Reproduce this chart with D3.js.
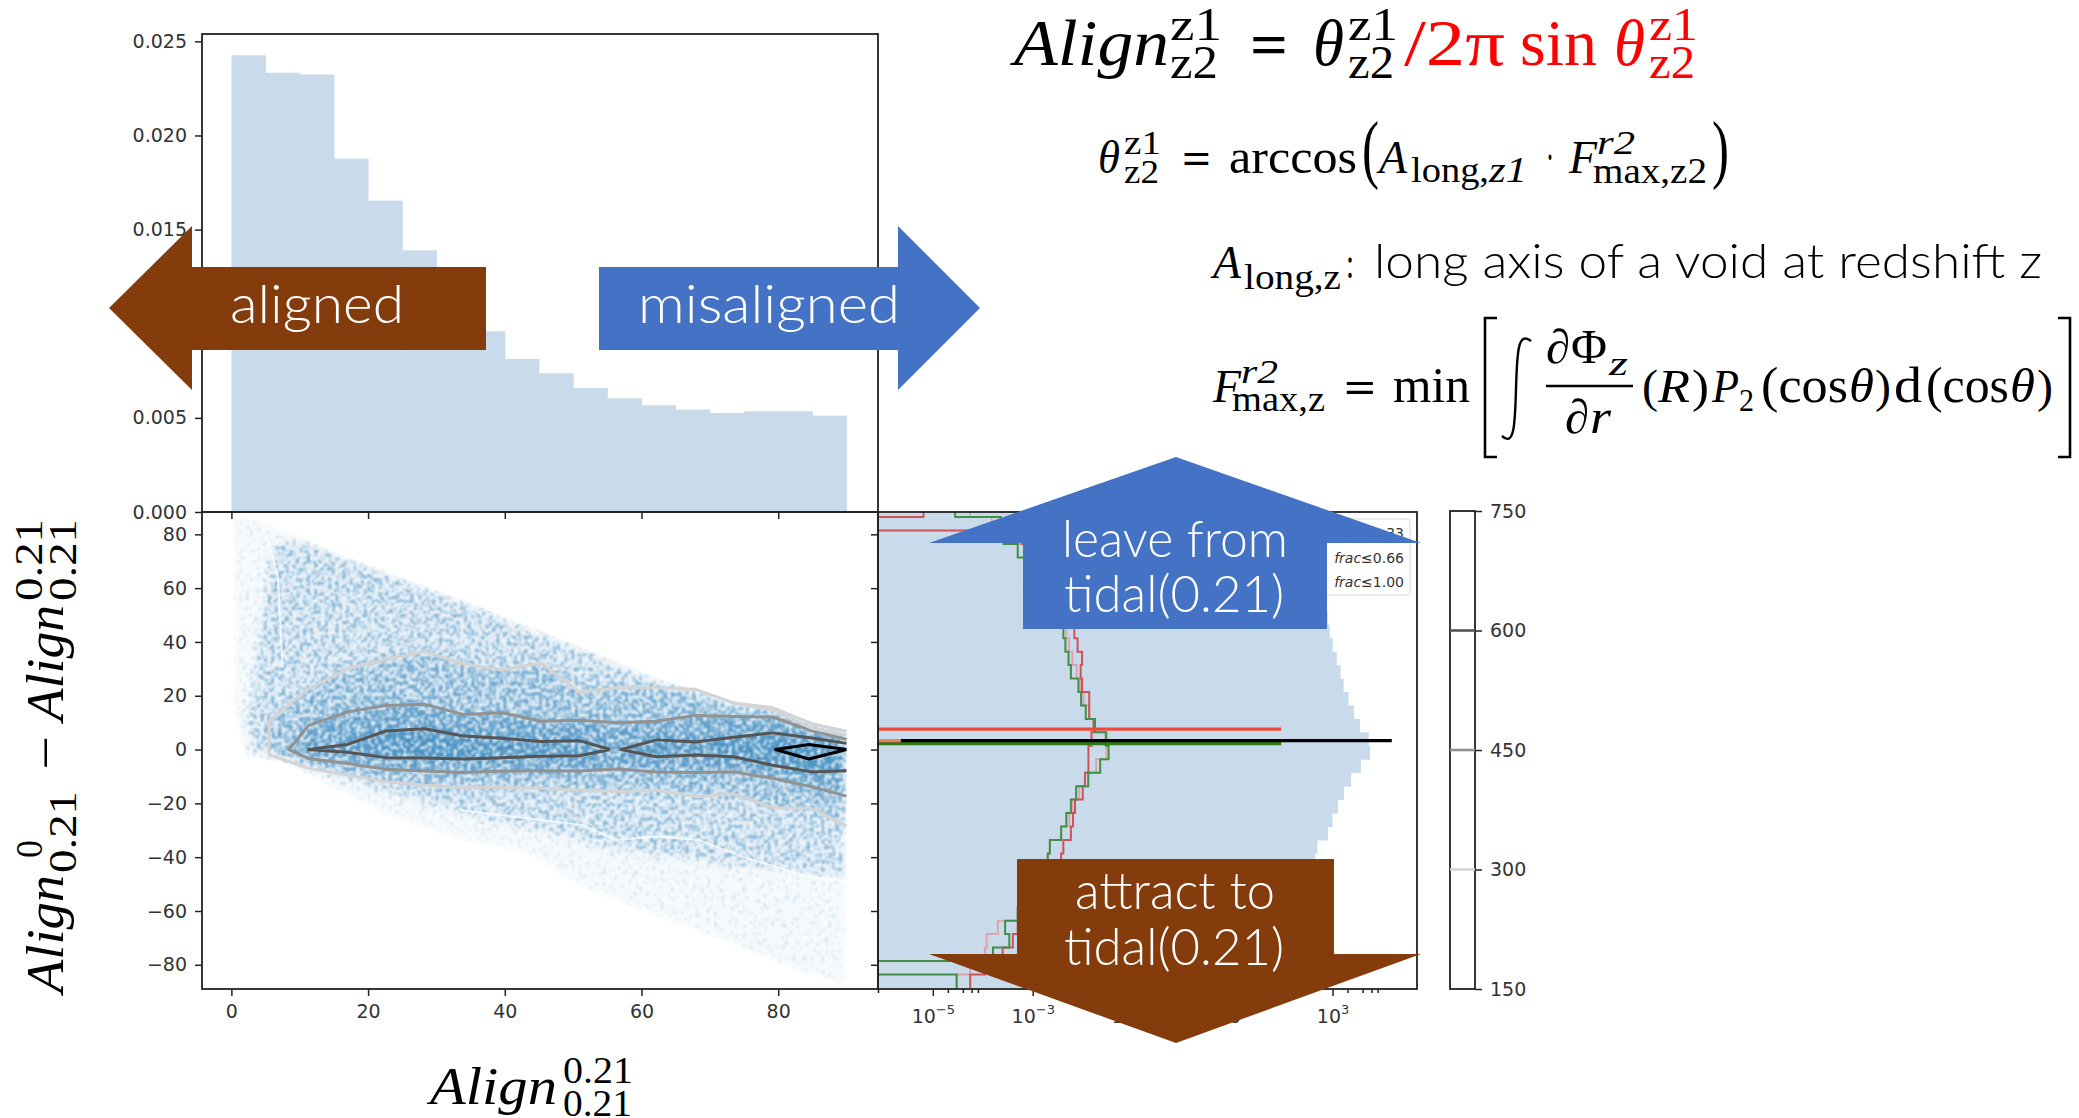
<!DOCTYPE html>
<html>
<head>
<meta charset="utf-8">
<script src="https://d3js.org/d3.v7.min.js"></script>
<style>
  body { margin: 0; background: #fff; }
  svg { display: block; }
  .tick text { font-family: "DejaVu Sans", sans-serif; font-size: 19px; fill: #333; }
  .tick line { stroke: #222; stroke-width: 1.5; }
</style>
</head>
<body>
<div id="chart"></div>
<script>
// Top histogram: Align(0.21, 0.21), 5 degree bins
const alignBins = [0, 5, 10, 15, 20, 25, 30, 35, 40, 45, 50, 55, 60, 65, 70, 75, 80, 85];
const alignDensity = [0.02426, 0.02333, 0.02324, 0.01877, 0.01654, 0.0139, 0.0118, 0.0096, 0.00813,
    0.00737, 0.00659, 0.00604, 0.00567, 0.00544, 0.00526, 0.00535, 0.00535, 0.00512];
const topTicks = [0, 0.005, 0.01, 0.015, 0.02, 0.025];
const alignTicks = [0, 20, 40, 60, 80];
const diffTicks = [-80, -60, -40, -20, 0, 20, 40, 60, 80];

// Right histograms: lower edge of each 5 degree bin of the difference
const diffBins = [-88.6, -83.6, -78.6, -73.6, -68.6, -63.6, -58.6, -53.6, -48.6, -43.6, -38.6, -33.6,
    -28.6, -23.6, -18.6, -13.6, -8.6, -3.6, 1.4, 6.4, 11.4, 16.4, 21.4, 26.4, 31.4, 36.4, 41.4, 46.4,
    51.4, 56.4, 61.4, 66.4, 71.4, 76.4, 81.4, 86.4];
const diffCounts = [3, 8, 20, 40, 70, 110, 170, 240, 330, 447, 500, 810, 995, 1290, 1700, 2340, 3700, 5650,
    5320, 3560, 2700, 2080, 1670, 1450, 1210, 1010, 880, 800, 640, 480, 350, 240, 150, 80, 30, 5];
const fracGreen = [3e-5, 0, 1.6e-4, 3.4e-4, 2.8e-4, 5e-4, 7e-4, 1e-3, 1.4e-3, 0.002, 0.0022, 0.0037, 0.0047, 0.0058,
    0.0074, 0.0129, 0.0224, 0.033, 0.029, 0.0176, 0.0115, 0.0093, 0.0082, 0.0058, 0.0052, 0.0045, 0.0041,
    0.0035, 0.003, 0.0024, 0.0018, 0.0013, 5e-4, 2.6e-4, 2.3e-4, 2.8e-5];
const fracRed = [5.6e-5, 1.1e-4, 2.5e-4, 4e-4, 5e-4, 7e-4, 1e-3, 1.4e-3, 1.9e-3, 0.0037, 0.0041, 0.0058, 0.0064, 0.007,
    0.01, 0.0111, 0.013, 0.013, 0.015, 0.0166, 0.0135, 0.0135, 0.0097, 0.0091, 0.0097, 0.0079, 0.0068,
    0.0058, 0.0047, 0.0036, 0.0026, 0.0018, 0.0012, 6e-4, 0, 6.5e-6];
const fracPink = [3e-5, 5.6e-5, 1.1e-4, 1.2e-4, 2e-4, 5e-4, 7e-4, 1e-3, 1.4e-3, 0.002, 0.0022, 0.0037, 0.0054, 0.0062,
    0.0085, 0.0111, 0.0186, 0.03, 0.031, 0.0162, 0.0135, 0.0104, 0.0089, 0.0076, 0.0062, 0.0053, 0.0047,
    0.004, 0.0033, 0.0026, 0.002, 0.0014, 8e-4, 3e-4, 1.5e-4, 5.6e-5];

// Long spikes in the right panel: difference value and length
const spikeValues = [7.6, 3.0, 2.2, 3.3];
const spikeLengths = [94, 94, 94, 15350];
const spikeColors = ['#f0483e', '#e8875a', '#2c7a12', '#000000'];
const logMajor = [1e-5, 1e-3, 1e-1, 1e1, 1e3];
const logMinor = [8e-7, 2e-5, 4e-5, 6e-5, 8e-5, 2e-3, 4e-3, 6e-3, 8e-3, 0.2, 0.4, 0.6, 0.8, 20, 40, 60, 80, 2000, 4000, 6000, 8000];
const logLabels = ['\u22125', '\u22123', '\u22121', '1', '3'];

const lightX = [5.5, 5.6, 11.3, 17, 22.6, 28.3, 34, 39.6, 45.3, 50.9, 56.6, 62.2, 67.9, 73.5, 79.2, 84.9, 90];
const lightUp = [0, 10.9, 22.6, 30, 33.6, 36.3, 31.8, 29.6, 32.2, 21.4, 23, 23, 22.4, 17.3, 15.6, 9.6, 6.8];
const lightLo = [0, -2, -7, -9.5, -12, -13.3, -14, -14, -14.4, -15, -15.6, -15, -17.5, -16.5, -21.5, -21.9, -28.4];
const lightExtraX = [73.5, 79.2, 84.9, 90];
const lightExtraY = [17.3, 14.7, 7.9, 5.4];
const midX = [8.4, 11.3, 17, 22.6, 28.3, 34, 39.6, 45.3, 50.9, 56.6, 62.2, 67.9, 73.5, 79.2, 84.9, 90];
const midUp = [0, 9, 14, 16.4, 16.8, 13, 13.7, 10.5, 10.9, 10, 10.5, 12.7, 12.3, 12.1, 7, 3.8];
const midLo = [0, -3.3, -5.2, -7.3, -8, -8.5, -8, -7.9, -8, -7.2, -8.3, -8.5, -8.3, -10.7, -13.8, -17.3];
const darkLeftX = [11.3, 17, 22.6, 28.3, 34, 39.6, 45.3, 50.9, 55.4];
const darkLeftUp = [0, 1.9, 6.9, 7.7, 5, 4.2, 3, 3.3, 0];
const darkLeftLo = [0, -1, -3, -3.1, -3.5, -3, -2.5, -2.3, 0];
const darkRightX = [57, 62.2, 67.9, 73.5, 79.2, 84.9, 90];
const darkRightUp = [0, 3.6, 2.8, 4.6, 6.2, 4.3, 2.3];
const darkRightLo = [0, -2.7, -2, -2.7, -5.8, -8.3, -7.9];
const peakX = [79.6, 84.5, 90];
const peakUp = [0, 1.9, 0];
const peakLo = [0, -3.5, 0];

// Outline of the scatter cloud (too many points to read, so it is drawn as density bands)
const sparseX = [0.3, 2, 8, 14.5, 24, 33.5, 43, 51.3, 62, 71.6, 81, 90];
const sparseUp = [87, 87, 81.5, 74, 65, 56, 46.5, 38, 27, 19, 13.5, 7];
const sparseLo = [15, -2.7, -5, -14, -26, -33.6, -38.5, -51.5, -62, -70.6, -80.5, -88.5];
const cloudX = [2.4, 6, 11.3, 17, 22.6, 28.3, 34, 39.6, 45.3, 50.9, 56.6, 62.2, 67.9, 73.5, 79.2, 84.9, 90];
const cloudUp = [13, 77, 77.5, 71, 66, 60.5, 55, 49.5, 43.5, 38, 31.5, 26.5, 22, 17.3, 15.6, 9.6, 7];
const cloudLo = [0, -2, -6.4, -11, -16, -20, -24, -27, -30, -34, -37, -39.5, -41, -43, -44, -46, -47];
// pale gaps running through the cloud
const gapAX = [33.5, 51.3, 56.4, 62.1, 68.4, 74.8, 84.3, 90];
const gapAY = [-22.5, -28, -33.6, -32.3, -33.6, -39.8, -47.2, -49];
const gapBX = [5.3, 6.8, 7.5];
const gapBY = [78.8, 63.9, 30.6];

const cbarTicks = [150, 300, 450, 600, 750];
const cbarLevels = [300, 450, 600];
const levelColors = ['#d4d4d4', '#929292', '#555555'];
const legendLabels = ['0.33', '0.66', '1.00'];

const width = 2079;
const height = 1118;
const histBlue = '#c9dbeb';
const brown = '#843c0c';
const blue = '#4472c4';
const mathFont = '"Liberation Serif", serif';
const sansFont = 'Lato, "Noto Sans", sans-serif';

const svg = d3.select('#chart').append('svg')
    .attr('width', width)
    .attr('height', height);

const xAlign = d3.scaleLinear().domain([-4.3, 94.6]).range([202, 878]);
const yTop = d3.scaleLinear().domain([0, 0.02539]).range([512, 34]);
const yDiff = d3.scaleLinear().domain([-89, 88.3]).range([989, 512]);
const xLog = d3.scaleLog().domain([8e-7, 4.9e4]).range([878, 1417]);
const yCbar = d3.scaleLinear().domain([150, 750]).range([989, 511]);

const defs = svg.append('defs');
defs.append('clipPath').attr('id', 'clip-right')
    .append('rect').attr('x', 878).attr('y', 512).attr('width', 539).attr('height', 477);

const bandArea = d3.area().x((d) => xAlign(d[0])).y0((d) => yDiff(d[1])).y1((d) => yDiff(d[2]));
defs.append('clipPath').attr('id', 'clip-cloud')
    .append('path')
    .attr('d', bandArea(sparseX.map((x, i) => [x, sparseUp[i], sparseLo[i]])));

// Halftone: the band density decides how much of the mottling shows,
// so thin parts of the cloud break up into specks like the overplotted dots
const speckle = defs.append('filter').attr('id', 'speckle')
    .attr('filterUnits', 'userSpaceOnUse')
    .attr('color-interpolation-filters', 'sRGB')
    .attr('x', 202).attr('y', 512).attr('width', 676).attr('height', 477);
speckle.append('feGaussianBlur').attr('in', 'SourceGraphic').attr('stdDeviation', 5).attr('result', 'density');
speckle.append('feTurbulence')
    .attr('type', 'fractalNoise').attr('baseFrequency', 0.28).attr('numOctaves', 2).attr('seed', 4)
    .attr('result', 'noise');
speckle.append('feColorMatrix').attr('in', 'noise').attr('type', 'matrix')
    .attr('values', '0 0 0 0 0  0 0 0 0 0  0 0 0 0 0  2.4 0 0 0 -0.7')
    .attr('result', 'grain');
speckle.append('feComposite').attr('in', 'density').attr('in2', 'grain').attr('operator', 'arithmetic')
    .attr('k1', 0).attr('k2', 1).attr('k3', 1).attr('k4', -1)
    .attr('result', 'sum');
speckle.append('feColorMatrix').attr('in', 'sum').attr('type', 'matrix')
    .attr('values', '0 0 0 0 0.12  0 0 0 0 0.47  0 0 0 0 0.71  0 0 0 3 0')
    .attr('result', 'specks');
speckle.append('feComposite').attr('in', 'specks').attr('in2', 'density').attr('operator', 'arithmetic')
    .attr('k1', 0.7).attr('k2', 0.12).attr('k3', 0.16).attr('k4', 0)
    .attr('result', 'toned');
speckle.append('feColorMatrix').attr('in', 'toned').attr('type', 'matrix')
    .attr('values', '0 0 0 0 0.12  0 0 0 0 0.47  0 0 0 0 0.71  0 0 0 1 0')
    .attr('result', 'colored');
speckle.append('feGaussianBlur').attr('in', 'colored').attr('stdDeviation', 0.9);

// Top histogram
svg.append('g').selectAll('rect')
    .data(alignBins)
    .join('rect')
    .attr('x', (d) => xAlign(d))
    .attr('y', (d, i) => yTop(alignDensity[i]))
    .attr('width', (d) => xAlign(d + 5) - xAlign(d) + 0.5)
    .attr('height', (d, i) => yTop(0) - yTop(alignDensity[i]))
    .attr('fill', histBlue);

// Scatter cloud
const cloud = svg.append('g').attr('clip-path', 'url(#clip-cloud)')
    .append('g').attr('filter', 'url(#speckle)');
const bands = [
    [sparseX, sparseUp, sparseLo, 0.24],
    [cloudX, cloudUp, cloudLo, 0.38],
    [lightX, lightUp, lightLo, 0.25],
    [midX, midUp, midLo, 0.3],
    [darkLeftX, darkLeftUp, darkLeftLo, 0.3],
    [darkRightX, darkRightUp, darkRightLo, 0.3]
];
bands.forEach(([xs, up, lo, alpha]) => {
    cloud.append('path')
        .attr('d', bandArea(xs.map((x, i) => [x, up[i], lo[i]])))
        .attr('fill', '#1f77b4')
        .attr('opacity', alpha);
});

const plotLine = d3.line().x((d) => xAlign(d[0])).y((d) => yDiff(d[1]));
[[gapAX, gapAY], [gapBX, gapBY]].forEach(([xs, ys]) => {
    svg.append('path')
        .attr('d', plotLine(xs.map((x, i) => [x, ys[i]])))
        .attr('fill', 'none')
        .attr('stroke', '#fff')
        .attr('stroke-opacity', 0.7)
        .attr('stroke-width', 2);
});

// Contours: lower edge back to the left, then the upper edge out again
function contourPoints(xs, up, lo) {
    const lower = xs.map((x, i) => [x, lo[i]]).reverse();
    const upper = xs.map((x, i) => [x, up[i]]);
    return lower.concat(upper);
}
const contours = [
    [lightX, lightUp, lightLo, levelColors[0]],
    [midX, midUp, midLo, levelColors[1]],
    [darkLeftX, darkLeftUp, darkLeftLo, levelColors[2]],
    [darkRightX, darkRightUp, darkRightLo, levelColors[2]],
    [peakX, peakUp, peakLo, '#000']
];
contours.forEach(([xs, up, lo, color]) => {
    svg.append('path')
        .attr('d', plotLine(contourPoints(xs, up, lo)))
        .attr('fill', 'none')
        .attr('stroke', color)
        .attr('stroke-width', 3)
        .attr('stroke-linejoin', 'round');
});
svg.append('path')
    .attr('d', plotLine(lightExtraX.map((x, i) => [x, lightExtraY[i]])))
    .attr('fill', 'none')
    .attr('stroke', levelColors[0])
    .attr('stroke-width', 3);

// Right histogram
const right = svg.append('g').attr('clip-path', 'url(#clip-right)');
right.append('g').selectAll('rect')
    .data(diffBins)
    .join('rect')
    .attr('x', 878)
    .attr('y', (d) => yDiff(d + 5))
    .attr('width', (d, i) => xLog(diffCounts[i]) - 878)
    .attr('height', (d) => yDiff(d) - yDiff(d + 5) + 0.5)
    .attr('fill', histBlue);

function stepPoints(values) {
    const pts = [];
    diffBins.forEach((b, i) => {
        const x = values[i] > 0 ? xLog(values[i]) : 870;
        pts.push([x, yDiff(b)], [x, yDiff(b + 5)]);
    });
    return pts;
}
[[fracPink, '#dfa3ab'], [fracRed, '#cf5257'], [fracGreen, '#3f8f47']].forEach(([values, color]) => {
    right.append('path')
        .attr('d', d3.line()(stepPoints(values)))
        .attr('fill', 'none')
        .attr('stroke', color)
        .attr('stroke-width', 2);
});
right.append('g').selectAll('line')
    .data(spikeValues)
    .join('line')
    .attr('x1', 878)
    .attr('x2', (d, i) => xLog(spikeLengths[i]))
    .attr('y1', (d) => yDiff(d))
    .attr('y2', (d) => yDiff(d))
    .attr('stroke', (d, i) => spikeColors[i])
    .attr('stroke-width', 3.2);
// black spike only starts a little way into the panel
right.append('line')
    .attr('x1', 878).attr('x2', xLog(2.3e-6))
    .attr('y1', yDiff(spikeValues[3])).attr('y2', yDiff(spikeValues[3]))
    .attr('stroke', spikeColors[1]).attr('stroke-width', 3.4);

// Legend, mostly behind the blue arrow
const legend = svg.append('g');
legend.append('rect')
    .attr('x', 1250).attr('y', 519).attr('width', 160).attr('height', 76).attr('rx', 3)
    .attr('fill', '#fff').attr('fill-opacity', 0.8).attr('stroke', '#d8d8d8');
legendLabels.forEach((label, i) => {
    const text = legend.append('text')
        .attr('x', 1404).attr('y', 538 + i * 24.5)
        .attr('text-anchor', 'end')
        .attr('font-family', '"DejaVu Sans", sans-serif')
        .attr('font-size', 14)
        .attr('fill', '#333');
    text.append('tspan').attr('font-style', 'italic').text('frac');
    text.append('tspan').text('\u2264' + label);
});

// Frames
[[202, 34, 676, 478], [202, 512, 676, 477], [878, 512, 539, 477]].forEach(([x, y, w, h]) => {
    svg.append('rect')
        .attr('x', x).attr('y', y).attr('width', w).attr('height', h)
        .attr('fill', 'none').attr('stroke', '#222').attr('stroke-width', 1.8);
});

// Axes
function addAxis(axis, x, y) {
    const g = svg.append('g').attr('transform', `translate(${x},${y})`).call(axis);
    g.select('.domain').remove();
    return g;
}
addAxis(d3.axisLeft(yTop).tickValues(topTicks).tickFormat(d3.format('.3f')).tickSize(7).tickPadding(8), 202, 0);
addAxis(d3.axisLeft(yDiff).tickValues(diffTicks).tickSize(7).tickPadding(8), 202, 0);
addAxis(d3.axisBottom(xAlign).tickValues(alignTicks).tickSize(7).tickPadding(9), 0, 989);
addAxis(d3.axisBottom(xAlign).tickValues(alignTicks).tickFormat('').tickSize(7), 0, 512);
addAxis(d3.axisLeft(yDiff).tickValues(diffTicks).tickFormat('').tickSize(7), 878, 0);
addAxis(d3.axisBottom(xLog).tickValues(logMinor).tickFormat('').tickSize(4), 0, 989);
const logAxis = addAxis(d3.axisBottom(xLog).tickValues(logMajor).tickFormat('').tickSize(7).tickPadding(14), 0, 989);
logAxis.selectAll('.tick text').each(function (d, i) {
    const text = d3.select(this);
    text.append('tspan').text('10');
    text.append('tspan').attr('font-size', 13).attr('dy', -9).text(logLabels[i]);
});

// Colour bar
svg.append('rect')
    .attr('x', 1450).attr('y', yCbar(750)).attr('width', 25).attr('height', yCbar(150) - yCbar(750))
    .attr('fill', '#fff').attr('stroke', '#222').attr('stroke-width', 1.8);
svg.append('g').selectAll('line')
    .data(cbarLevels)
    .join('line')
    .attr('x1', 1450).attr('x2', 1475)
    .attr('y1', (d) => yCbar(d)).attr('y2', (d) => yCbar(d))
    .attr('stroke', (d, i) => levelColors[i])
    .attr('stroke-width', 2.6);
addAxis(d3.axisRight(yCbar).tickValues(cbarTicks).tickSize(7).tickPadding(8), 1475, 0);

// Arrows
function arrow(points, color) {
    svg.append('path')
        .attr('d', d3.line()(points) + 'Z')
        .attr('fill', color);
}
arrow([[109, 308], [192, 226], [192, 267], [486, 267], [486, 350], [192, 350], [192, 390]], brown);
arrow([[980, 308], [898, 226], [898, 267], [599, 267], [599, 350], [898, 350], [898, 390]], blue);
arrow([[1176, 457], [1421, 543], [1327, 543], [1327, 629], [1023, 629], [1023, 543], [929, 543]], blue);
arrow([[1176, 1043], [1421, 954], [1334, 954], [1334, 859], [1017, 859], [1017, 954], [929, 954]], brown);

// Text helper: fits each run to the width measured in the picture
function put(s, x, y, size, w, opts = {}) {
    const el = (opts.parent || svg).append('text')
        .attr('x', x).attr('y', y)
        .attr('font-family', opts.family || mathFont)
        .attr('font-size', size)
        .attr('font-style', opts.italic ? 'italic' : 'normal')
        .attr('font-weight', opts.weight || 400)
        .attr('fill', opts.fill || '#000')
        .text(s);
    if (w) el.attr('textLength', w).attr('lengthAdjust', 'spacingAndGlyphs');
    return el;
}
const it = { italic: true };
const red = { fill: '#ff0000' };
const redIt = { fill: '#ff0000', italic: true };
const bold = { weight: 700 };
const onArrow = { family: sansFont, fill: '#fff', weight: 300 };

put('aligned', 230, 323, 54, 174, onArrow);
put('misaligned', 638, 323, 54, 262, onArrow);
put('leave from', 1062, 557, 52, 226, onArrow);
put('tidal(0.21)', 1064, 612, 52, 220, onArrow);
put('attract to', 1075, 909, 52, 200, onArrow);
put('tidal(0.21)', 1064, 965, 52, 220, onArrow);

// Align = theta / 2 pi sin theta
put('Align', 1014, 65, 66, 155, it);
put('z1', 1170, 40, 46, 52);
put('z2', 1170, 78, 46, 48);
put('=', 1250, 65, 62, 38, bold);
put('\u03b8', 1313, 65, 66, 31, it);
put('z1', 1348, 40, 46, 50);
put('z2', 1348, 78, 46, 46);
put('/2\u03c0', 1404, 65, 66, 101, red);
put('sin', 1520, 65, 66, 77, red);
put('\u03b8', 1614, 65, 66, 31, redIt);
put('z1', 1649, 40, 46, 49, red);
put('z2', 1649, 78, 46, 46, red);

// theta = arccos(...)
put('\u03b8', 1098, 173, 46, 22, it);
put('z1', 1124, 154, 34, 37);
put('z2', 1124, 183, 34, 35);
put('=', 1182, 173, 44, 29, bold);
put('arccos', 1229, 173, 48, 128);
put('(', 1362, 174, 76, 17);
put('A', 1379, 173, 46, 28, it);
put('long,', 1411, 182, 35, 78);
put('z1', 1489, 182, 35, 38, it);
put('\u00b7', 1546, 173, 46, 8);
put('F', 1569, 173, 46, 28, it);
put('r2', 1597, 154, 34, 38, it);
put('max,z2', 1593, 183, 35, 114);
put(')', 1712, 174, 76, 17);

// A_long,z definition
put('A', 1213, 278, 46, 28, it);
put('long,z', 1244, 289, 35, 97);
put(':', 1346, 278, 44, 8);
put('long axis of a void at redshift z', 1374, 278, 48, 668, { family: sansFont, weight: 300 });

// F_max,z definition
put('F', 1213, 402, 46, 28, it);
put('r2', 1241, 383, 34, 37, it);
put('max,z', 1232, 411, 35, 93);
put('=', 1344, 402, 44, 32, bold);
put('min', 1393, 402, 50, 77);
svg.append('path')
    .attr('d', 'M1497,318H1485V457H1497M2058,318H2070V457H2058')
    .attr('fill', 'none').attr('stroke', '#000').attr('stroke-width', 2.6);
svg.append('path')
    .attr('d', 'M1531,341C1518,331 1517,352 1516,389C1515,426 1514,447 1502,436')
    .attr('fill', 'none').attr('stroke', '#000').attr('stroke-width', 2.4);
put('\u2202', 1546, 363, 48, 24, it);
put('\u03a6', 1571, 363, 48, 36);
put('z', 1609, 375, 34, 19, it);
svg.append('line')
    .attr('x1', 1546).attr('x2', 1633).attr('y1', 386).attr('y2', 386)
    .attr('stroke', '#000').attr('stroke-width', 2.4);
put('\u2202', 1565, 433, 48, 24, it);
put('r', 1590, 433, 48, 21, it);
put('(', 1642, 402, 46, 16);
put('R', 1658, 402, 46, 32, it);
put(')', 1692, 402, 46, 17);
put('P', 1712, 402, 46, 27, it);
put('2', 1739, 411, 32, 15);
put('(cos', 1761, 402, 50, 87);
put('\u03b8', 1849, 402, 48, 25, it);
put(')', 1875, 402, 46, 16);
put('d', 1894, 402, 50, 28);
put('(cos', 1926, 402, 50, 83);
put('\u03b8', 2010, 402, 48, 25, it);
put(')', 2037, 402, 46, 16);

// Axis labels
put('Align', 430, 1104, 52, 127, it);
put('0.21', 563, 1083, 38, 70);
put('0.21', 563, 1116, 38, 69);

const yLabel = svg.append('g').attr('transform', 'translate(63,993) rotate(-90)');
const inLabel = (s, x, dy, size, w, opts = {}) => put(s, x, dy, size, w, { ...opts, parent: yLabel });
inLabel('Align', 0, 0, 52, 118, it);
inLabel('0', 135, -21, 38, 18);
inLabel('0.21', 120, 13, 40, 82);
inLabel('\u2212', 223, 0, 52, 34);
inLabel('Align', 272, 0, 52, 116, it);
inLabel('0.21', 392, -21, 40, 82);
inLabel('0.21', 392, 13, 40, 82);
</script>
</body>
</html>
